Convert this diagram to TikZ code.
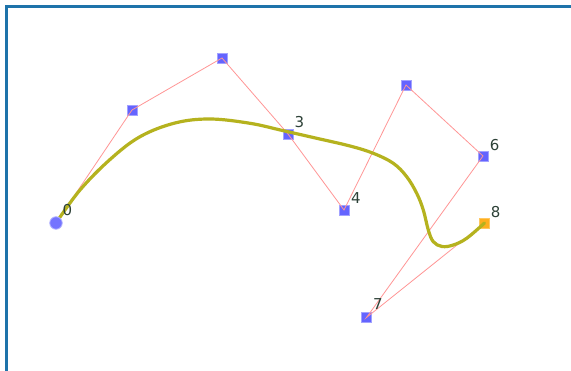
\documentclass[tikz,border=0pt]{standalone}
\usepackage{fontspec}
\setmainfont{DejaVu Sans}
\definecolor{framec}{RGB}{30,115,170}
\definecolor{polyc}{RGB}{255,150,150}
\definecolor{curvec}{RGB}{181,178,30}
\definecolor{ptc}{RGB}{100,100,255}
\definecolor{selc}{RGB}{255,175,30}
\definecolor{labc}{RGB}{45,65,55}
\begin{document}
\begin{tikzpicture}[x=1pt,y=-1pt,
  ctrl/.style={rectangle,fill=ptc,draw=ptc!60,line width=0.6pt,minimum size=10pt,inner sep=0pt},
  selpt/.style={rectangle,fill=selc,draw=selc!70,line width=0.6pt,minimum size=10pt,inner sep=0pt},
  startpt/.style={circle,fill=ptc!90,draw=ptc!50,line width=0.8pt,minimum size=12.5pt,inner sep=0pt},
  poly/.style={draw=polyc,line width=0.8pt},
  spline/.style={draw=curvec,line width=3.2pt,line cap=round,line join=round},
  lab/.style={text=labc,font=\fontsize{15}{18}\selectfont,inner sep=0pt,anchor=center},
  framel/.style={draw=framec,line width=2.2pt}]
\useasboundingbox (0,0) rectangle (571,371);
\fill[white] (0,0) rectangle (571,371);
\draw[framel] (6.5,371) -- (6.5,6.5) -- (571,6.5);
% control points
\node[ctrl] (p1) at (132,110) {};
\node[ctrl] (p2) at (222,58) {};
\node[ctrl] (p3) at (288,134) {};
\node[ctrl] (p4) at (344,210) {};
\node[ctrl] (p5) at (406,85) {};
\node[ctrl] (p6) at (483,156) {};
\node[ctrl] (p7) at (366.5,317.5) {};
\node[selpt] (p8) at (484.5,223) {};
\coordinate (p0) at (56,223);
% control polygon
\draw[poly] (p0) -- (p1.center) -- (p2.center) -- (p3.center) -- (p4.center) -- (p5.center) -- (p6.center) -- (p7.center) -- (p8.center);
% curve
\draw[spline] plot[smooth,tension=0.6] coordinates {
 (56,223) (80,190) (110,159.5) (140,136.7) (175,123) (210,119)
 (250,123.3) (283.3,130.7) (316.7,138.3) (350,146) (373.3,153.3) (393.3,163.3) (406.7,176.7)
 (416.7,193.3) (423.3,210) (428.3,230) (433.3,241.7) (442,246.5) (453.3,245) (466.7,238.3) (484.5,223)};
\node[startpt] (s0) at (p0) {};
% labels
\node[lab] (l0) at (67.5,210.5) {0};
\node[lab] (l3) at (299.5,122.5) {3};
\node[lab] (l4) at (356,198.5) {4};
\node[lab] (l6) at (494.7,144.7) {6};
\node[lab] (l7) at (378,304) {7};
\node[lab] (l8) at (495.7,211.7) {8};
\end{tikzpicture}
\end{document}
